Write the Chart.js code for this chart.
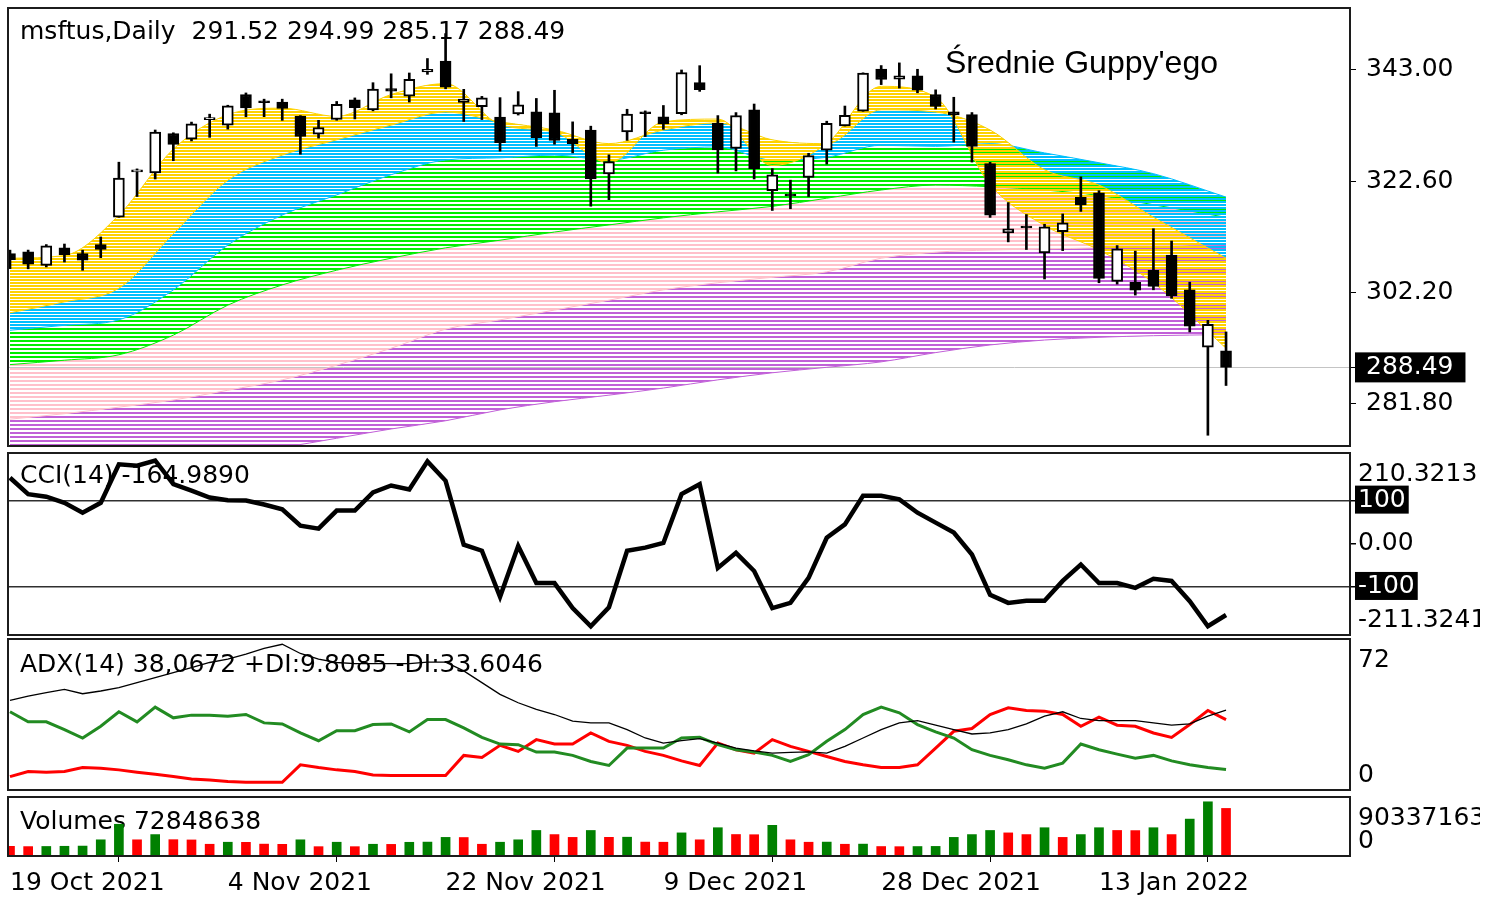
<!DOCTYPE html>
<html>
<head>
<meta charset="utf-8">
<script src="https://cdn.jsdelivr.net/npm/chart.js@4.4.1/dist/chart.umd.min.js"></script>
<style>
  body { margin: 0; background: #fff; }
  #wrap { position: relative; width: 1496px; height: 899px; }
  canvas { position: absolute; left: 0; }
</style>
</head>
<body>
<div id="wrap">
  <canvas id="price" style="top:0;width:1480px;height:447px" width="1480" height="447"></canvas>
  <canvas id="cci" style="top:448px;width:1480px;height:188px" width="1480" height="188"></canvas>
  <canvas id="adx" style="top:636px;width:1480px;height:155px" width="1480" height="155"></canvas>
  <canvas id="vol" style="top:792px;width:1480px;height:107px" width="1480" height="107"></canvas>
</div>
<script>
// ---- data ----
const xTickAt = [0, 12, 24, 36, 48, 60];
const xTickLabels = ['19 Oct 2021', '4 Nov 2021', '22 Nov 2021', '9 Dec 2021', '28 Dec 2021', '13 Jan 2022'];

const open  = [309.35,309.65,307.20,310.40,309.36,311.00,316.00,324.33,324.13,331.36,330.31,333.90,332.89,338.51,337.30,337.11,334.57,331.25,333.92,337.54,335.68,339.60,338.18,342.64,344.62,337.05,336.28,334.35,334.94,335.32,335.13,330.30,331.99,323.95,331.64,335.31,334.41,334.98,340.68,333.22,328.61,335.71,320.88,320.05,323.29,328.30,332.75,335.46,343.15,341.30,341.91,338.51,335.35,334.83,325.86,313.15,314.15,309.49,313.38,319.67,320.47,304.25,304.07,306.29,309.07,302.69,292.20,291.52];
const high  = [309.98,309.99,311.00,311.10,309.97,312.40,326.10,324.87,332.00,331.49,333.45,334.90,336.54,338.79,337.65,337.65,334.63,333.77,337.23,337.88,340.67,342.30,342.45,345.10,349.67,339.45,338.16,337.93,339.03,337.78,339.28,333.49,332.70,327.45,335.80,335.50,336.49,343.00,343.79,334.64,335.19,336.76,324.92,322.80,327.73,333.61,336.39,342.48,343.81,344.30,343.13,339.36,338.00,335.20,326.07,318.70,316.50,314.72,316.61,323.41,320.88,310.82,309.80,313.91,311.65,304.11,297.11,294.99];
const low   = [306.59,306.56,306.90,307.80,306.29,308.60,316.00,319.81,323.02,326.37,330.00,330.65,332.16,334.42,334.44,333.77,327.56,330.51,333.79,334.03,335.51,337.90,337.12,342.20,339.55,333.56,333.91,328.12,334.74,328.99,329.39,327.80,318.03,319.23,330.10,330.80,332.12,334.79,339.08,324.11,324.50,323.02,317.25,317.57,319.80,325.75,332.73,335.43,340.32,339.68,338.82,335.85,329.78,326.12,315.98,311.49,310.09,304.69,309.89,317.08,304.00,303.75,301.74,302.71,301.14,294.98,276.05,285.17];
const close = [308.23,307.41,310.76,309.16,308.13,310.11,323.17,324.35,331.62,329.37,333.13,334.00,336.44,336.06,336.99,335.95,330.80,332.43,336.72,336.07,339.51,339.12,341.27,343.11,339.83,337.68,337.91,329.68,336.63,330.59,330.08,329.49,323.01,326.19,334.92,334.97,333.10,342.54,339.40,328.34,334.65,324.90,323.80,319.91,327.29,333.20,334.69,342.45,341.25,341.95,339.32,336.32,334.75,329.01,316.38,313.88,314.04,314.27,314.98,318.27,304.80,310.20,302.65,303.33,301.60,296.03,296.37,288.49];

const priceTicks = [281.80, 302.20, 322.60, 343.00];
const lastClose = 288.49;

// Guppy moving averages: edge lines of each colour group, sampled at these bars
const gmmaAt        = [0,3,6,9,12,15,18,21,24,27,30,33,36,39,42,45,48,51,54,57,60,63,67];
const gmmaFast      = [308.5,309.0,316.4,328.5,334.8,336.0,334.5,338.5,340.5,333.0,331.6,326.0,333.5,334.0,325.5,329.5,340.0,338.0,322.0,314.5,310.0,304.0,292.0];
const gmmaGoldSlow  = [298.5,300.5,303.0,313.0,322.8,327.4,330.2,332.9,335.3,333.5,332.0,329.5,332.0,333.3,330.2,329.5,335.7,335.3,332.0,324.7,321.9,316.0,308.5];
const gmmaBlueSlow  = [295.3,296.2,297.2,302.7,310.9,316.4,320.1,323.8,326.5,326.9,327.4,326.5,328.3,328.9,326.5,327.0,329.2,329.0,329.5,327.8,326.0,324.0,319.7];
const gmmaGreenSlow = [289.0,289.8,290.8,294.4,299.9,303.6,306.3,308.5,310.4,311.8,313.3,314.6,315.9,317.0,318.0,319.5,321.0,321.9,321.6,321.0,320.0,318.3,316.0];
const gmmaPinkSlow  = [279.0,280.0,281.2,282.5,284.3,286.2,288.9,292.0,295.5,297.2,299.0,300.8,302.7,304.0,305.0,306.0,308.5,309.6,310.0,310.2,310.4,310.8,311.0];
const gmmaLongSlow  = [268.0,269.5,270.5,271.5,272.5,273.8,275.5,277.2,278.7,280.7,282.2,283.4,284.7,286.2,287.5,288.5,289.5,291.2,292.6,293.5,294.0,294.3,294.5];

const cci = [153,115,109,95,72,95,184,181,193,138,123,107,101,100,91,80,42,35,77,77,119,135,126,191,146,-2,-16,-123,-5,-91,-91,-149,-191,-147,-16,-9,2,115,138,-56,-21,-63,-149,-137,-79,14,45,111,111,103,72,49,26,-25,-118,-137,-132,-132,-86,-48,-91,-91,-102,-81,-86,-133,-191,-164.99];
const cciMax = 210.3213, cciMin = -211.3241;
const cciLevels = [-100, 100];

const adx     = [42.7,44.8,46.4,48.0,45.9,47.2,48.8,51.2,53.6,56.0,58.4,60.8,62.4,64.8,67.5,69.5,65.1,62.4,60.8,60.3,60.3,60.3,60.3,61.0,61.0,56.8,51.2,45.6,41.6,38.4,36.0,32.8,32.0,32.0,28.8,24.8,22.4,23.5,24.5,22.4,20.0,18.7,17.6,17.9,18.2,17.6,20.8,24.8,28.8,32.0,33.1,30.9,28.8,26.7,27.2,28.8,31.5,35.2,37.3,34.1,33.1,33.1,33.1,32.0,30.9,31.5,35.2,38.07];
const plusDI  = [37.3,32.5,32.5,28.8,24.8,30.4,37.3,32.5,39.5,34.4,35.7,35.7,35.2,36.0,32.0,31.5,27.2,23.5,28.3,28.3,31.2,31.5,27.7,33.6,33.6,29.6,25.1,21.9,21.6,18.1,18.1,16.5,13.6,11.7,20.0,20.0,20.0,24.8,25.1,21.6,19.2,18.1,16.5,13.6,16.8,23.2,28.8,36.0,39.5,36.8,31.2,27.7,24.8,19.2,16.5,14.4,12.0,10.4,12.8,21.9,19.2,17.1,15.2,16.5,13.9,12.0,10.7,9.81];
const minusDI = [6.4,8.8,8.5,8.8,10.7,10.4,9.6,8.5,7.5,6.4,5.3,4.8,4.0,3.7,3.7,3.7,12.0,10.7,9.6,8.8,7.2,6.9,6.9,6.9,6.9,16.5,15.5,21.3,18.4,24.0,21.9,21.9,27.2,23.2,21.3,18.4,16.5,13.9,11.7,22.4,19.2,17.6,24.0,20.8,18.4,16.0,13.6,12.0,10.7,10.7,12.0,20.0,28.0,29.3,36.0,39.2,37.9,37.6,36.0,30.4,34.7,30.9,30.4,27.2,25.1,31.2,37.9,33.6];
const adxMax = 72;

const volume = [14800000,14400000,14600000,14900000,15200000,24800000,48600000,24800000,32800000,25000000,24600000,18000000,21100000,20900000,18200000,17900000,24800000,14300000,21100000,14300000,18000000,17800000,21000000,21300000,28500000,28300000,18000000,21100000,24800000,39100000,32800000,28500000,39100000,28600000,28800000,21300000,21100000,35400000,24800000,43300000,32900000,32600000,47000000,24800000,21100000,21300000,18000000,18200000,14500000,14300000,14500000,14700000,28500000,32800000,39100000,35400000,32800000,43300000,28500000,32800000,43300000,39100000,38900000,43300000,32800000,56500000,83000000,72848638];
const volumeBefore = 16500000;
const volumeMax = 90337163;

// ---- layout / style ----
const xMin = -0.11, xMax = 73.83;
const FONT = { family: 'DejaVu Sans', size: 25 };
const FONT_CSS = '25px "DejaVu Sans"';
const GOLD = '#FFD200', BLUE = '#00BFFF', GREEN = '#00EE00', PINK = '#FFC0CB', VIOLET = '#C160D8';

function stripes(color, on, off) {
  const c = document.createElement('canvas');
  c.width = 4; c.height = on + off;
  const g = c.getContext('2d');
  g.fillStyle = color;
  g.fillRect(0, 0, 4, on);
  return g.createPattern(c, 'repeat');
}

// frame, captions and the min/max labels MetaTrader puts inside the scale
const panelDecor = {
  id: 'panelDecor',
  beforeDatasetsDraw(chart, args, opts) {
    const ctx = chart.ctx;
    (opts.texts || []).forEach(t => {
      ctx.save();
      ctx.font = t.font || FONT_CSS;
      ctx.fillStyle = '#000';
      ctx.textBaseline = 'middle';
      ctx.fillText(t.text, t.x, t.y);
      ctx.restore();
    });
  },
  afterDatasetsDraw(chart) {
    const { ctx, chartArea: a } = chart;
    ctx.save();
    ctx.strokeStyle = '#1c1c1c';
    ctx.lineWidth = 2;
    ctx.strokeRect(a.left, a.top, a.right - a.left, a.bottom - a.top);
    ctx.restore();
  },
  afterDraw(chart, args, opts) {
    const ctx = chart.ctx, y = chart.scales.y;
    (opts.edges || []).forEach(e => {
      const py = y.getPixelForValue(e.value);
      ctx.save();
      ctx.font = FONT_CSS;
      ctx.fillStyle = '#000';
      ctx.textBaseline = e.top ? 'top' : 'bottom';
      ctx.fillText(e.text, chart.chartArea.right + 8, e.top ? py + 9 : py - 2);
      ctx.restore();
    });
  }
};
Chart.register(panelDecor);

function xScale(show) {
  const s = {
    type: 'linear', min: xMin, max: xMax, offset: false, display: show,
    afterBuildTicks: s => { s.ticks = xTickAt.map(v => ({ value: v })); },
    ticks: {
      callback: v => xTickLabels[xTickAt.indexOf(v)],
      align: 'start', maxRotation: 0, autoSkip: false, padding: 6,
      font: FONT, color: '#000'
    },
    grid: { drawOnChartArea: false, tickLength: 6, tickColor: '#000' },
    border: { display: false }
  };
  if (show) s.afterFit = sc => { sc.height = 43; };
  return s;
}

function yScale(min, max, values, fmt, opt) {
  return {
    position: 'right', min, max,
    afterBuildTicks: s => { s.ticks = values.map(v => ({ value: v })); },
    afterFit: s => { s.width = 130; s.paddingTop = 0; s.paddingBottom = 0; },
    ticks: {
      callback: fmt, autoSkip: false, font: FONT, padding: opt.padding,
      color: c => opt.boxed.includes(c.tick.value) ? '#fff' : '#000',
      showLabelBackdrop: true,
      backdropColor: c => opt.boxed.includes(c.tick.value) ? '#000' : 'rgba(0,0,0,0)',
      backdropPadding: opt.boxPad
    },
    grid: {
      color: c => opt.lines.includes(c.tick.value) ? opt.lineColor : 'rgba(0,0,0,0)',
      lineWidth: opt.lineWidth || 1,
      tickColor: '#000', tickLength: 6
    },
    border: { display: false }
  };
}

const common = {
  responsive: false, maintainAspectRatio: false, animation: false, events: [],
  plugins: { legend: { display: false }, tooltip: { enabled: false } }
};

// ---- price panel ----
const gPts = arr => gmmaAt.map((x, k) => ({ x, y: arr[k] }));
const band = (arr, color, fillTo, bg, order) => ({
  type: 'line', data: gPts(arr), borderColor: color, borderWidth: 1,
  pointRadius: 0, tension: 0.4, cubicInterpolationMode: 'monotone',
  fill: fillTo === null ? false : fillTo, backgroundColor: bg || 'transparent', order
});

new Chart(document.getElementById('price'), {
  type: 'bar',
  data: {
    datasets: [
      {
        data: open.map((o, i) => ({ x: i, y: [o, close[i]] })),
        backgroundColor: close.map((c, i) => c >= open[i] ? '#fff' : '#000'),
        borderColor: '#000', borderWidth: 2, borderSkipped: false,
        barThickness: 11, minBarLength: 2, grouped: false, order: 0
      },
      {
        data: low.map((l, i) => ({ x: i, y: [l, high[i]] })),
        backgroundColor: '#000', barThickness: 2, grouped: false, order: 1
      },
      band(gmmaFast, GOLD, null, null, 2),
      band(gmmaGoldSlow, GOLD, 2, stripes(GOLD, 2, 1), 2),
      band(gmmaBlueSlow, BLUE, 3, stripes(BLUE, 2, 1), 3),
      band(gmmaGreenSlow, GREEN, 4, stripes(GREEN, 2, 2), 4),
      band(gmmaPinkSlow, PINK, 5, stripes(PINK, 2, 2), 5),
      band(gmmaLongSlow, VIOLET, 6, stripes(VIOLET, 2, 2), 6)
    ]
  },
  options: {
    ...common,
    layout: { padding: { left: 8, top: 8, right: 0, bottom: 1 } },
    scales: {
      x: xScale(false),
      y: yScale(274.08, 354.36, [...priceTicks, lastClose], v => v.toFixed(2), {
        padding: 10, boxed: [lastClose], boxPad: { left: 11, right: 12, top: 0, bottom: 0 },
        lines: [lastClose], lineColor: '#c4c4c4'
      })
    },
    plugins: {
      ...common.plugins,
      panelDecor: {
        texts: [
          { text: 'msftus,Daily  291.52 294.99 285.17 288.49', x: 20, y: 32 },
          { text: "Średnie Guppy'ego", x: 945, y: 64, font: '32px "Liberation Sans"' }
        ]
      }
    }
  }
});

// ---- CCI panel ----
new Chart(document.getElementById('cci'), {
  type: 'line',
  data: {
    datasets: [{
      data: cci.map((v, i) => ({ x: i, y: v })),
      borderColor: '#000', borderWidth: 4.5, pointRadius: 0, tension: 0
    }]
  },
  options: {
    ...common,
    layout: { padding: { left: 8, top: 5, right: 0, bottom: 1 } },
    scales: {
      x: xScale(false),
      y: yScale(cciMin, cciMax, [cciMin, ...cciLevels, 0, cciMax],
        v => v === 0 ? '0.00' : (cciLevels.includes(v) ? String(v) : null), {
        padding: 2, boxed: cciLevels, boxPad: { left: 3, right: 3, top: 0, bottom: -2 },
        lines: cciLevels, lineColor: '#303030', lineWidth: 1.5
      })
    },
    plugins: {
      ...common.plugins,
      panelDecor: {
        texts: [{ text: 'CCI(14) -164.9890', x: 20, y: 28 }],
        edges: [{ value: cciMax, text: String(cciMax), top: true }, { value: cciMin, text: String(cciMin), top: false }]
      }
    }
  }
});

// ---- ADX panel ----
const adxLine = (arr, color, width) => ({
  data: arr.map((v, i) => ({ x: i, y: v })),
  borderColor: color, borderWidth: width, pointRadius: 0, tension: 0
});
new Chart(document.getElementById('adx'), {
  type: 'line',
  data: {
    datasets: [
      adxLine(adx, '#000', 1.3),
      adxLine(plusDI, '#228B22', 3),
      adxLine(minusDI, '#FF0000', 3)
    ]
  },
  options: {
    ...common,
    layout: { padding: { left: 8, top: 3, right: 0, bottom: 1 } },
    scales: {
      x: xScale(false),
      y: yScale(0, adxMax, [0, adxMax], () => null, { padding: 2, boxed: [], boxPad: 0, lines: [] })
    },
    plugins: {
      ...common.plugins,
      panelDecor: {
        texts: [{ text: 'ADX(14) 38,0672 +DI:9.8085 -DI:33.6046', x: 20, y: 29 }],
        edges: [{ value: adxMax, text: String(adxMax), top: true }, { value: 0, text: '0', top: false }]
      }
    }
  }
});

// ---- Volumes panel ----
new Chart(document.getElementById('vol'), {
  type: 'bar',
  data: {
    datasets: [{
      data: volume.map((v, i) => ({ x: i, y: v })),
      backgroundColor: volume.map((v, i) => v > (i ? volume[i - 1] : volumeBefore) ? '#008000' : '#FF0000'),
      barThickness: 9
    }]
  },
  options: {
    ...common,
    layout: { padding: { left: 8, top: 5, right: 0, bottom: 0 } },
    scales: {
      x: xScale(true),
      y: yScale(0, volumeMax, [0, volumeMax], () => null, { padding: 2, boxed: [], boxPad: 0, lines: [] })
    },
    plugins: {
      ...common.plugins,
      panelDecor: {
        texts: [{ text: 'Volumes 72848638', x: 20, y: 30 }],
        edges: [{ value: volumeMax, text: String(volumeMax), top: true }, { value: 0, text: '0', top: false }]
      }
    }
  }
});
</script>
</body>
</html>
